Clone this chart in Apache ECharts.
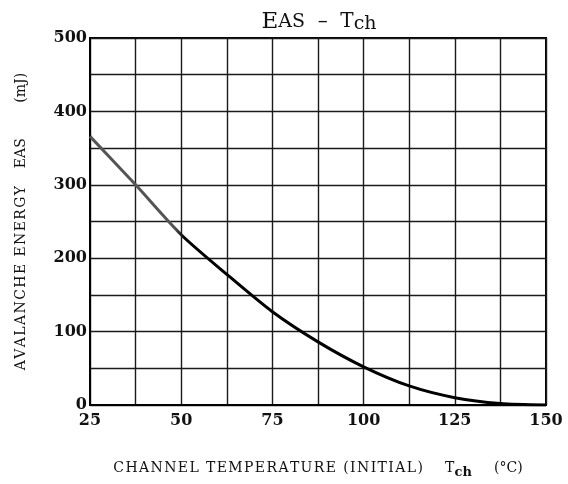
<!DOCTYPE html>
<html>
<head>
<meta charset="utf-8">
<script src="https://cdn.jsdelivr.net/npm/echarts@6/dist/echarts.min.js"></script>
<style>html,body{margin:0;padding:0;background:#fff;}#c{width:568px;height:484px;}</style>
</head>
<body>
<div id="c"></div>
<script>
const temps = [25, 37.5, 50, 62.5, 75, 87.5, 100, 112.5, 125, 137.5, 150];
const energy = [366, 300, 232, 178, 127, 86, 52, 26, 10, 2, 0];
const xTicks = [25, 50, 75, 100, 125, 150];
const yTicks = [0, 100, 200, 300, 400, 500];

const serif = '"DejaVu Serif", "Liberation Serif", serif';
// widen letters slightly with hair spaces (matches the spaced typesetting of the original)
const sp = s => s.split('').join('\u200A');
const chart = echarts.init(document.getElementById('c'));
chart.setOption({
  backgroundColor: '#fff',
  animation: false,
  title: {
    text: '{e|E}{s|AS}{b|  –  T}{c|ch}',
    left: 314, top: 5, textAlign: 'center',
    textStyle: {
      rich: {
        e: {fontFamily: serif, fontSize: 23, fontWeight: 'normal', color: '#111'},
        s: {fontFamily: serif, fontSize: 19, fontWeight: 'normal', color: '#111'},
        b: {fontFamily: serif, fontSize: 20, fontWeight: 'normal', color: '#111'},
        c: {fontFamily: serif, fontSize: 19, fontWeight: 'normal', color: '#111', padding: [5, 0, 0, 0]}
      }
    }
  },
  grid: {left: 90, right: 22, top: 38, bottom: 69, show: true, borderColor: '#000', borderWidth: 2},
  xAxis: {
    type: 'value', min: 25, max: 150, interval: 12.5,
    axisLine: {show: true, lineStyle: {color: '#000', width: 2}},
    axisTick: {show: false},
    splitLine: {show: true, lineStyle: {color: '#1a1a1a', width: 1.4}},
    axisLabel: {
      margin: 8, fontFamily: serif, fontSize: 16, fontWeight: 'bold', color: '#111',
      formatter: v => xTicks.includes(v) ? String(v) : ''
    },
    name: '{n|' + sp('CHANNEL TEMPERATURE (INITIAL)') + '     T}{s|ch}{n|     (°C)}',
    nameLocation: 'middle', nameGap: 52,
    nameTextStyle: {
      rich: {
        n: {fontFamily: serif, fontSize: 14, color: '#111'},
        s: {fontFamily: serif, fontSize: 13, fontWeight: 'bold', color: '#111', padding: [9, 0, 0, 0]}
      }
    }
  },
  yAxis: {
    type: 'value', min: 0, max: 500, interval: 50,
    axisLine: {show: true, lineStyle: {color: '#000', width: 2}},
    axisTick: {show: false},
    splitLine: {show: true, lineStyle: {color: '#1a1a1a', width: 1.4}},
    axisLabel: {
      margin: 3, fontFamily: serif, fontSize: 16, fontWeight: 'bold', color: '#111',
      formatter: v => yTicks.includes(v) ? String(v) : ''
    },
    name: '{n|' + sp('AVALANCHE ENERGY') + '    EAS        (mJ)}',
    nameLocation: 'middle', nameGap: 62, nameRotate: 90,
    nameTextStyle: {
      rich: {
        n: {fontFamily: serif, fontSize: 14, color: '#111'}
      }
    }
  },
  series: [{
    type: 'line', data: temps.map((t, i) => [t, energy[i]]),
    smooth: 0.25, showSymbol: false,
    lineStyle: {
      width: 3,
      color: new echarts.graphic.LinearGradient(0, 0, 1, 0, [
        {offset: 0, color: '#555'}, {offset: 0.19, color: '#555'},
        {offset: 0.21, color: '#000'}, {offset: 1, color: '#000'}
      ])
    }
  }]
});
</script>
</body>
</html>
